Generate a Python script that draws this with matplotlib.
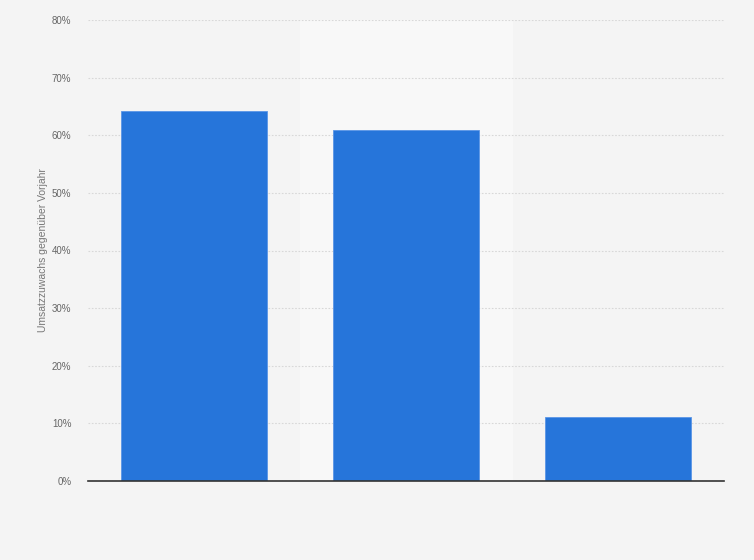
import matplotlib
matplotlib.use("Agg")
import matplotlib.pyplot as plt
from matplotlib.ticker import FuncFormatter

plt.rcParams['font.family'] = ['Liberation Sans', 'DejaVu Sans']

# Umsatzzuwachs je Kategorie (in %)
categories = ["", "", ""]
values = [64.2, 60.9, 11.1]
highlight_index = 1
y_ticks = [0, 10, 20, 30, 40, 50, 60, 70, 80]

bg = "#f4f4f4"
bar_color = "#2675da"

fig = plt.figure(figsize=(7.54, 5.60), dpi=100, facecolor=bg)
ax = fig.add_axes([88 / 754, 79 / 560, 636 / 754, 461 / 560])
ax.set_facecolor(bg)

x = list(range(len(values)))
ax.axvspan(highlight_index - 0.5, highlight_index + 0.5, color="#f8f8f8", zorder=0)
ax.bar(x, values, width=0.69, color=bar_color, edgecolor="#5a95e6",
       linewidth=0.6, zorder=3)

ax.set_xlim(-0.5, len(values) - 0.5)
ax.set_ylim(0, 80)
ax.set_yticks(y_ticks)
ax.yaxis.set_major_formatter(FuncFormatter(lambda v, p: f"{int(v)}%"))
ax.set_xticks(x)
ax.set_xticklabels(categories)

ax.grid(axis="y", color="#d8d8d8", linestyle=(0, (1.5, 1.5)), linewidth=0.8, zorder=1)
ax.tick_params(axis="y", length=0, pad=12, labelsize=7, labelcolor="#666666")
ax.tick_params(axis="x", length=0)
for side in ["top", "right", "left"]:
    ax.spines[side].set_visible(False)
ax.spines["bottom"].set_color("#333333")
ax.spines["bottom"].set_linewidth(1.2)
ax.spines["bottom"].set_zorder(4)

ax.set_ylabel("Umsatzzuwachs gegenüber Vorjahr", fontsize=7.5, color="#777777", labelpad=3)

fig.savefig("out.png", dpi=100, facecolor=bg)
